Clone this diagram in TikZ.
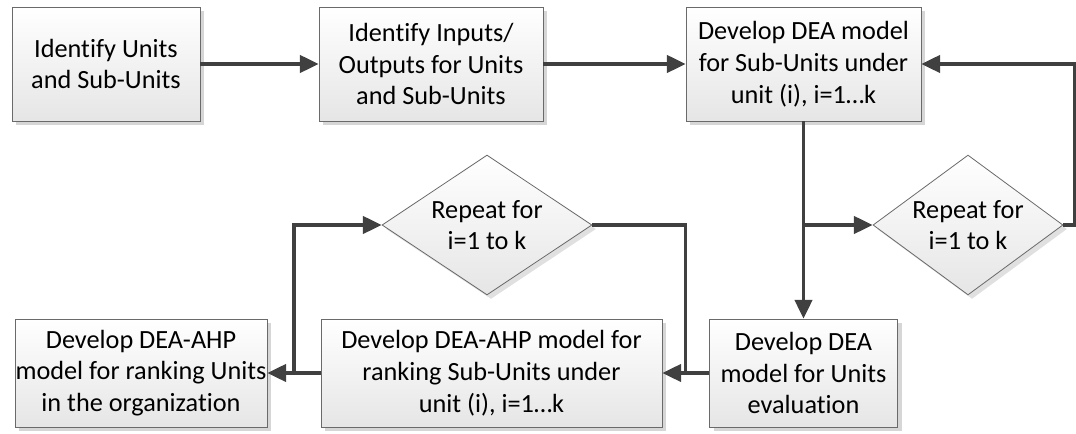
\documentclass[tikz,border=0pt]{standalone}
\usepackage{fontspec}
\setmainfont{Carlito}[Ligatures=CommonOff]
\usepackage{tikz}
\usetikzlibrary{calc,shapes.geometric,arrows.meta,shadows}
\definecolor{linegray}{HTML}{404040}
\definecolor{edgegray}{HTML}{6A6A6A}
\tikzset{
    every node/.style={font=\fontsize{19.7}{23.8}\selectfont, text=black},
    box/.style={draw=edgegray, line width=0.6pt, top color=white, bottom color=black!10,
        align=center, inner sep=0pt, minimum height=85.5pt,
        drop shadow={shadow xshift=3pt, shadow yshift=-3pt, fill=black!16, opacity=1}},
    decision/.style={diamond, draw=edgegray, line width=0.6pt, top color=white, bottom color=black!10,
        align=center, inner sep=-4pt, minimum height=102pt,
        drop shadow={shadow xshift=3pt, shadow yshift=-3pt, fill=black!12, opacity=1}},
    line/.style={draw=linegray, line width=2.4pt},
    flow/.style={line, -{Triangle[length=14pt,width=13pt]}},
}

\begin{document}
\begin{tikzpicture}[x=0.75pt,y=0.75pt,yscale=-1,xscale=1]
\useasboundingbox (0,0) rectangle (1076,434);
%Top row
\node[box, minimum width=141pt] (units) at (106,64) {Identify Units\\and Sub-Units};
\node[box, minimum width=168pt] (inputs) at (431,64) {Identify Inputs/\\Outputs for Units\\and Sub-Units};
\node[box, minimum width=176.25pt] (subdea) at (803.5,64) {Develop DEA model\\for Sub-Units under\\unit (i), i=1…k};
%Diamonds
\node[decision, minimum width=157.5pt] (repunit) at (487,225) {Repeat for\\i=1 to k};
\node[decision, minimum width=142.5pt] (repsub) at (968,225) {Repeat for\\i=1 to k};
%Bottom row
\node[box, minimum width=189pt, minimum height=81pt] (unitahp) at (141,373) {Develop DEA-AHP\\model for ranking Units\\in the organization};
\node[box, minimum width=255.75pt, minimum height=81pt] (subahp) at (491.5,373) {Develop DEA-AHP model for\\ranking Sub-Units under\\unit (i), i=1…k};
\node[box, minimum width=141pt, minimum height=81pt] (unitdea) at (803.5,373) {Develop DEA\\model for Units\\evaluation};

%Connectors
\draw[flow] (units) -- (inputs);
\draw[flow] (inputs) -- (subdea);
\draw[flow] (subdea.south) -- (unitdea.north);
\coordinate (split) at (subdea.south |- repsub.west);
\draw[flow] (split) -- (repsub.west);
\coordinate (loopr) at ($(repsub.east)+(11,0)$);
\draw[flow] (repsub.east) -- (loopr) |- (subdea.east);
\draw[flow] (unitdea) -- (subahp);
\coordinate (joinr) at ($(subahp.east)!0.5!(unitdea.west)$);
\draw[line] (repunit.east) -| (joinr);
\draw[flow] (subahp) -- (unitahp);
\coordinate (joinl) at ($(unitahp.east)!0.5!(subahp.west)$);
\draw[flow] (joinl) |- (repunit.west);
\end{tikzpicture}
\end{document}
